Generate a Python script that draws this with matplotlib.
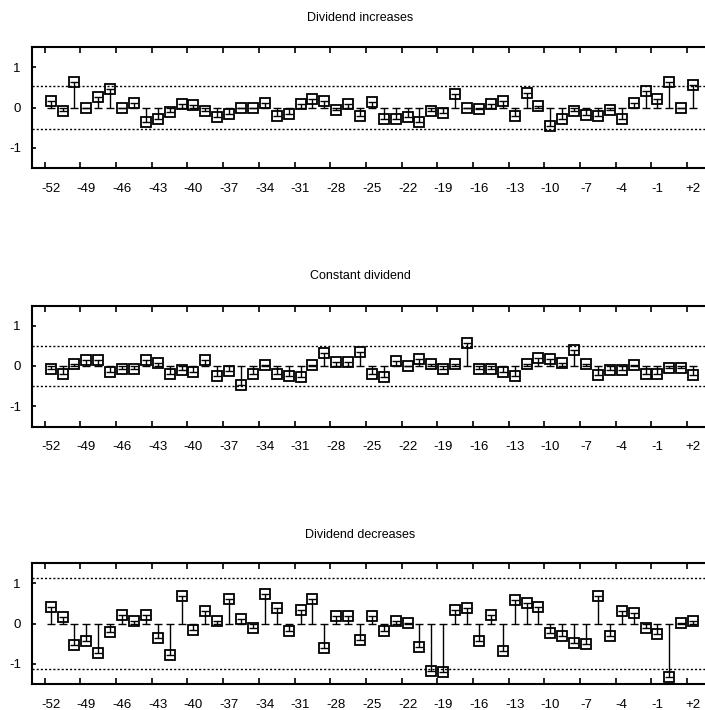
import matplotlib
matplotlib.use("Agg")
import matplotlib.pyplot as plt
import numpy as np

plt.rcParams['font.family'] = ['Liberation Sans', 'DejaVu Sans']

# ---- data ----
event_days = list(range(-52, 3))
tick_values = [-52, -49, -46, -43, -40, -37, -34, -31, -28, -25, -22, -19, -16, -13, -10, -7, -4, -1, 2]
tick_labels = ["-52", "-49", "-46", "-43", "-40", "-37", "-34", "-31", "-28", "-25",
               "-22", "-19", "-16", "-13", "-10", "-7", "-4", "-1", "+2"]

increases = [0.16, -0.08, 0.63, -0.01, 0.26, 0.46, 0.0, 0.12, -0.37, -0.28, -0.12, 0.09, 0.05, -0.08,
             -0.24, -0.16, 0.0, 0.0, 0.12,
             -0.22, -0.16, 0.09, 0.20, 0.17, -0.06, 0.09, -0.20, 0.14, -0.29, -0.29, -0.24, -0.37,
             -0.08, -0.14, 0.34, -0.01, -0.04, 0.09,
             0.17, -0.20, 0.36, 0.04, -0.45, -0.28, -0.08, -0.18, -0.22, -0.06, -0.29, 0.12, 0.42,
             0.21, 0.64, -0.02, 0.56]
constant = [-0.08, -0.19, 0.04, 0.16, 0.16, -0.15, -0.07, -0.07, 0.16, 0.08, -0.21, -0.09, -0.16, 0.16,
            -0.26, -0.13, -0.46, -0.19, 0.03,
            -0.21, -0.24, -0.28, 0.02, 0.31, 0.09, 0.09, 0.35, -0.21, -0.28, 0.12, 0.01, 0.18, 0.04,
            -0.08, 0.04, 0.56, -0.08, -0.08,
            -0.15, -0.25, 0.06, 0.20, 0.18, 0.08, 0.39, 0.06, -0.23, -0.11, -0.09, 0.02, -0.19,
            -0.19, -0.04, -0.04, -0.23]
decreases = [0.42, 0.16, -0.53, -0.44, -0.74, -0.20, 0.22, 0.05, 0.22, -0.36, -0.78, 0.68, -0.15, 0.30,
             0.05, 0.60, 0.10, -0.11, 0.72,
             0.39, -0.19, 0.34, 0.60, -0.61, 0.18, 0.18, -0.40, 0.18, -0.19, 0.05, 0.02, -0.58, -1.17,
             -1.20, 0.34, 0.38, -0.44, 0.22,
             -0.69, 0.59, 0.51, 0.42, -0.23, -0.32, -0.48, -0.52, 0.68, -0.32, 0.31, 0.26, -0.11,
             -0.27, -1.32, 0.01, 0.05]

titles = ["Dividend increases", "Constant dividend", "Dividend decreases"]
series = [increases, constant, decreases]
bands = [0.54, 0.49, 1.13]

# ---- layout ----
W, H = 705, 710
fig = plt.figure(figsize=(W / 100, H / 100), dpi=100)

ax_tops = [47, 305.5, 563]
ax_h = 121
left_px = 32
title_y = [18, 276, 535]

for k in range(3):
    top = ax_tops[k]
    ax = fig.add_axes([left_px / W, 1 - (top + ax_h) / H, (W - left_px) / W, ax_h / H])
    vals = np.array(series[k])
    x = np.array(event_days)
    lower = np.where(vals > 0, vals, 0.0)
    upper = np.where(vals < 0, -vals, 0.0)
    ax.errorbar(x, vals, yerr=[lower, upper], fmt='none', ecolor='black',
                elinewidth=1.0, capsize=2.9, capthick=1.0, zorder=2)
    ax.plot(x, vals, linestyle='none', marker='s', markersize=7.4,
            markerfacecolor='none', markeredgecolor='black', markeredgewidth=1.3, zorder=3)
    ax.axhline(bands[k], color='black', linestyle=(0, (1.5, 1.5)), linewidth=1.0, zorder=1)
    ax.axhline(-bands[k], color='black', linestyle=(0, (1.5, 1.5)), linewidth=1.0, zorder=1)

    ax.set_xlim(-53.57, 3.0)
    ax.set_ylim(-1.5, 1.5)

    ax.set_xticks(tick_values)
    ax.set_xticklabels(tick_labels, fontsize=9.5)
    ax.set_xticks([t - 0.5 for t in tick_values], minor=True)
    ax.tick_params(axis='x', which='major', length=0, pad=10.5)
    ax.tick_params(axis='x', which='minor', direction='in', length=4, width=1.2,
                   top=True, bottom=True)
    ax.set_yticks([-1, 0, 1])
    ax.set_yticklabels(["-1", "0", "1"], fontsize=9.5)
    ax.tick_params(axis='y', direction='in', length=3, width=1.2, pad=8, right=False)

    for s in ['left', 'bottom', 'top']:
        ax.spines[s].set_linewidth(1.5)
    ax.spines['right'].set_visible(False)

    fig.text(360 / W, 1 - title_y[k] / H, titles[k], ha='center', va='center', fontsize=9)

fig.savefig("out.png", dpi=100)
